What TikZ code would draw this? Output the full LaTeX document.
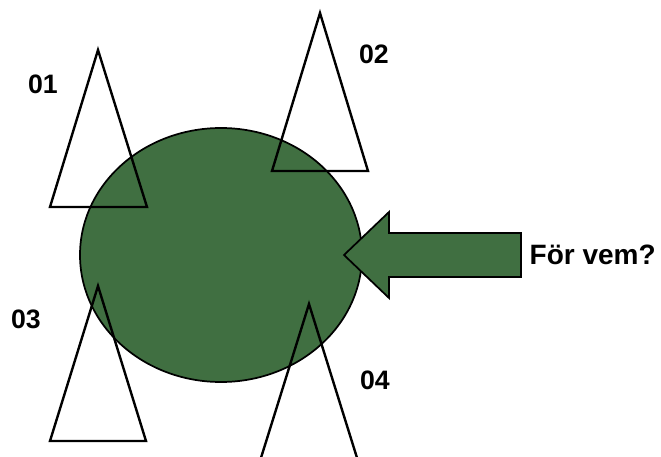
\documentclass[tikz,border=0pt]{standalone}
\usepackage{fontspec}
\setmainfont{Liberation Sans}
\definecolor{grongul}{RGB}{64,111,65}
\tikzset{
  blob/.style={fill=grongul, draw=black, line width=1.3pt},
  tri/.style={draw=black, line width=1.8pt, line join=miter},
  lbl/.style={font=\bfseries\fontsize{20}{24}\selectfont},
}
\begin{document}
\begin{tikzpicture}[x=0.75pt, y=-0.75pt]
      \clip (0,0) rectangle (661,457);
      \fill[white] (0,0) rectangle (661,457);
      % the circle
      \draw[blob] (221,255) ellipse [x radius=141, y radius=127];
      % the arrow
      \draw[blob] (344,255) -- (389,212) -- (389,233) -- (521,233)
        -- (521,277) -- (389,277) -- (389,298) -- cycle;
      % the triangles
      \draw[tri] (98,50) -- (147,207) -- (50,207) -- cycle;
      \draw[tri] (320,13) -- (368,171) -- (272,171) -- cycle;
      \draw[tri] (98,286) -- (146,441) -- (50,441) -- cycle;
      \draw[tri] (309,304) -- (358,461) -- (260,461) -- cycle;
      % the labels
      \draw
        (43,84) node[lbl] (n01){01}
        (374,54) node[lbl] (n02){02}
        (26,319) node[lbl] (n03){03}
        (375,380) node[lbl] (n04){04}
        (525,255) node[lbl, anchor=west, font=\bfseries\fontsize{21}{25}\selectfont] (fvem){För vem?};
    \end{tikzpicture}
\end{document}
